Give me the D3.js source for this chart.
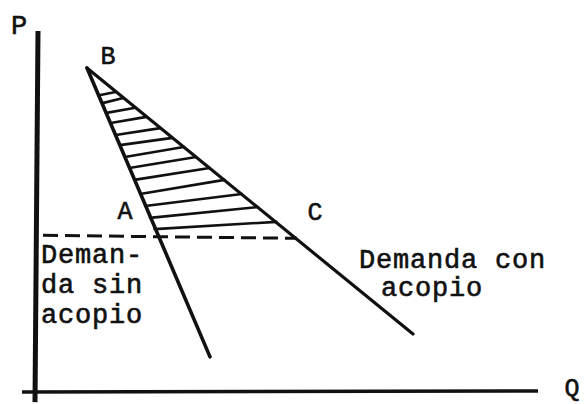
<!DOCTYPE html>
<html lang="en">
<head>
    <meta charset="UTF-8">
    <title>Demanda con y sin acopio</title>
    <script src="https://d3js.org/d3.v7.min.js"></script>
    <style>
        body { margin: 0; background: #fff; }
        svg text { font-family: "Liberation Mono", "Courier New", monospace; fill: #111; }
    </style>
</head>
<body>
<script>
// points of the diagram, in Q / P units
const pointNames = ['B', 'A', 'C'];
const pointQ = [10.4, 24.4, 52.4];
const pointP = [89.5, 42.8, 42.6];

// demand curves: start at B, end points
const sinAcopioEnd = [35, 9.7];
const conAcopioEnd = [75.6, 16];

// dashed price line
const dashedQ = [1.6, 52.4];
const dashedP = 43;

// hatching: P where each stroke leaves line BA and where it meets line BC
const hatchLeftP = [82.0, 79.8, 77.1, 74.3, 71.0, 68.2, 64.9, 61.9, 58.6, 54.7, 51.4, 48.1, 45.0];
const hatchRightP = [82.9, 81.2, 78.5, 76.0, 72.9, 70.2, 67.7, 64.9, 61.9, 58.6, 54.7, 51.1, 47.0];

const width = 585;
const height = 404;

const svg = d3.select('body').append('svg')
    .attr('width', width)
    .attr('height', height);

const x = d3.scaleLinear().domain([0, 100]).range([35, 535]);
const y = d3.scaleLinear().domain([0, 100]).range([392, 30]);

const ink = '#111';

// axes
svg.append('line')
    .attr('x1', x(0.6)).attr('y1', y(99.7))
    .attr('x2', x(0)).attr('y2', y(-2.8))
    .attr('stroke', ink).attr('stroke-width', 5);
svg.append('line')
    .attr('x1', x(-2.6)).attr('y1', y(0))
    .attr('x2', x(100.6)).attr('y2', y(0.3))
    .attr('stroke', ink).attr('stroke-width', 3.5);

function label(txt, px, py, size) {
    svg.append('text').attr('x', px).attr('y', py)
        .attr('text-anchor', 'middle')
        .attr('stroke', ink).attr('stroke-width', 0.6)
        .style('font-size', size + 'px').text(txt);
}
label('P', 19, 34, 27);
label('Q', 572, 396, 25);

const B = [x(pointQ[0]), y(pointP[0])];
const A = [x(pointQ[1]), y(pointP[1])];
const C = [x(pointQ[2]), y(pointP[2])];

// hatching inside triangle BAC
function onLine(p0, p1, yy) {
    const t = (yy - p0[1]) / (p1[1] - p0[1]);
    return p0[0] + t * (p1[0] - p0[0]);
}
hatchLeftP.forEach((p, i) => {
    const ly = y(p), ry = y(hatchRightP[i]);
    svg.append('line')
        .attr('x1', onLine(B, A, ly) + 1).attr('y1', ly)
        .attr('x2', onLine(B, C, ry) - 1).attr('y2', ry)
        .attr('stroke', ink).attr('stroke-width', 2.6)
        .attr('stroke-linecap', 'round');
});

// dashed line through A and C
svg.append('line')
    .attr('x1', x(dashedQ[0])).attr('y1', y(dashedP) - 1)
    .attr('x2', x(dashedQ[1])).attr('y2', y(dashedP) + 2)
    .attr('stroke', ink).attr('stroke-width', 3)
    .attr('stroke-dasharray', '15,7');

// demand curves
const line = d3.line().x(d => x(d[0])).y(d => y(d[1]));
svg.append('path')
    .attr('d', line([[pointQ[0], pointP[0]], sinAcopioEnd]))
    .attr('fill', 'none').attr('stroke', ink).attr('stroke-width', 3.6)
    .attr('stroke-linecap', 'round');
svg.append('path')
    .attr('d', line([[pointQ[0], pointP[0]], conAcopioEnd]))
    .attr('fill', 'none').attr('stroke', ink).attr('stroke-width', 3.2)
    .attr('stroke-linecap', 'round');

// point labels
const labelOffset = { B: [21, -4], A: [-32, -18], C: [18, -18] };
pointNames.forEach((n, i) => {
    label(n, x(pointQ[i]) + labelOffset[n][0], y(pointP[i]) + labelOffset[n][1], 25);
});

// curve labels
function block(lines, x0, y0, lh) {
    const t = svg.append('text').style('font-size', '27px').style('letter-spacing', '0.8px')
        .attr('stroke', ink).attr('stroke-width', 0.6);
    lines.forEach((s, i) => {
        t.append('tspan').attr('x', x0[i]).attr('y', y0 + i * lh).text(s);
    });
}
block(['Deman-', 'da sin', 'acopio'], [41, 41, 41], 263, 30);
block(['Demanda con', 'acopio'], [359, 381], 268, 28);
</script>
</body>
</html>
